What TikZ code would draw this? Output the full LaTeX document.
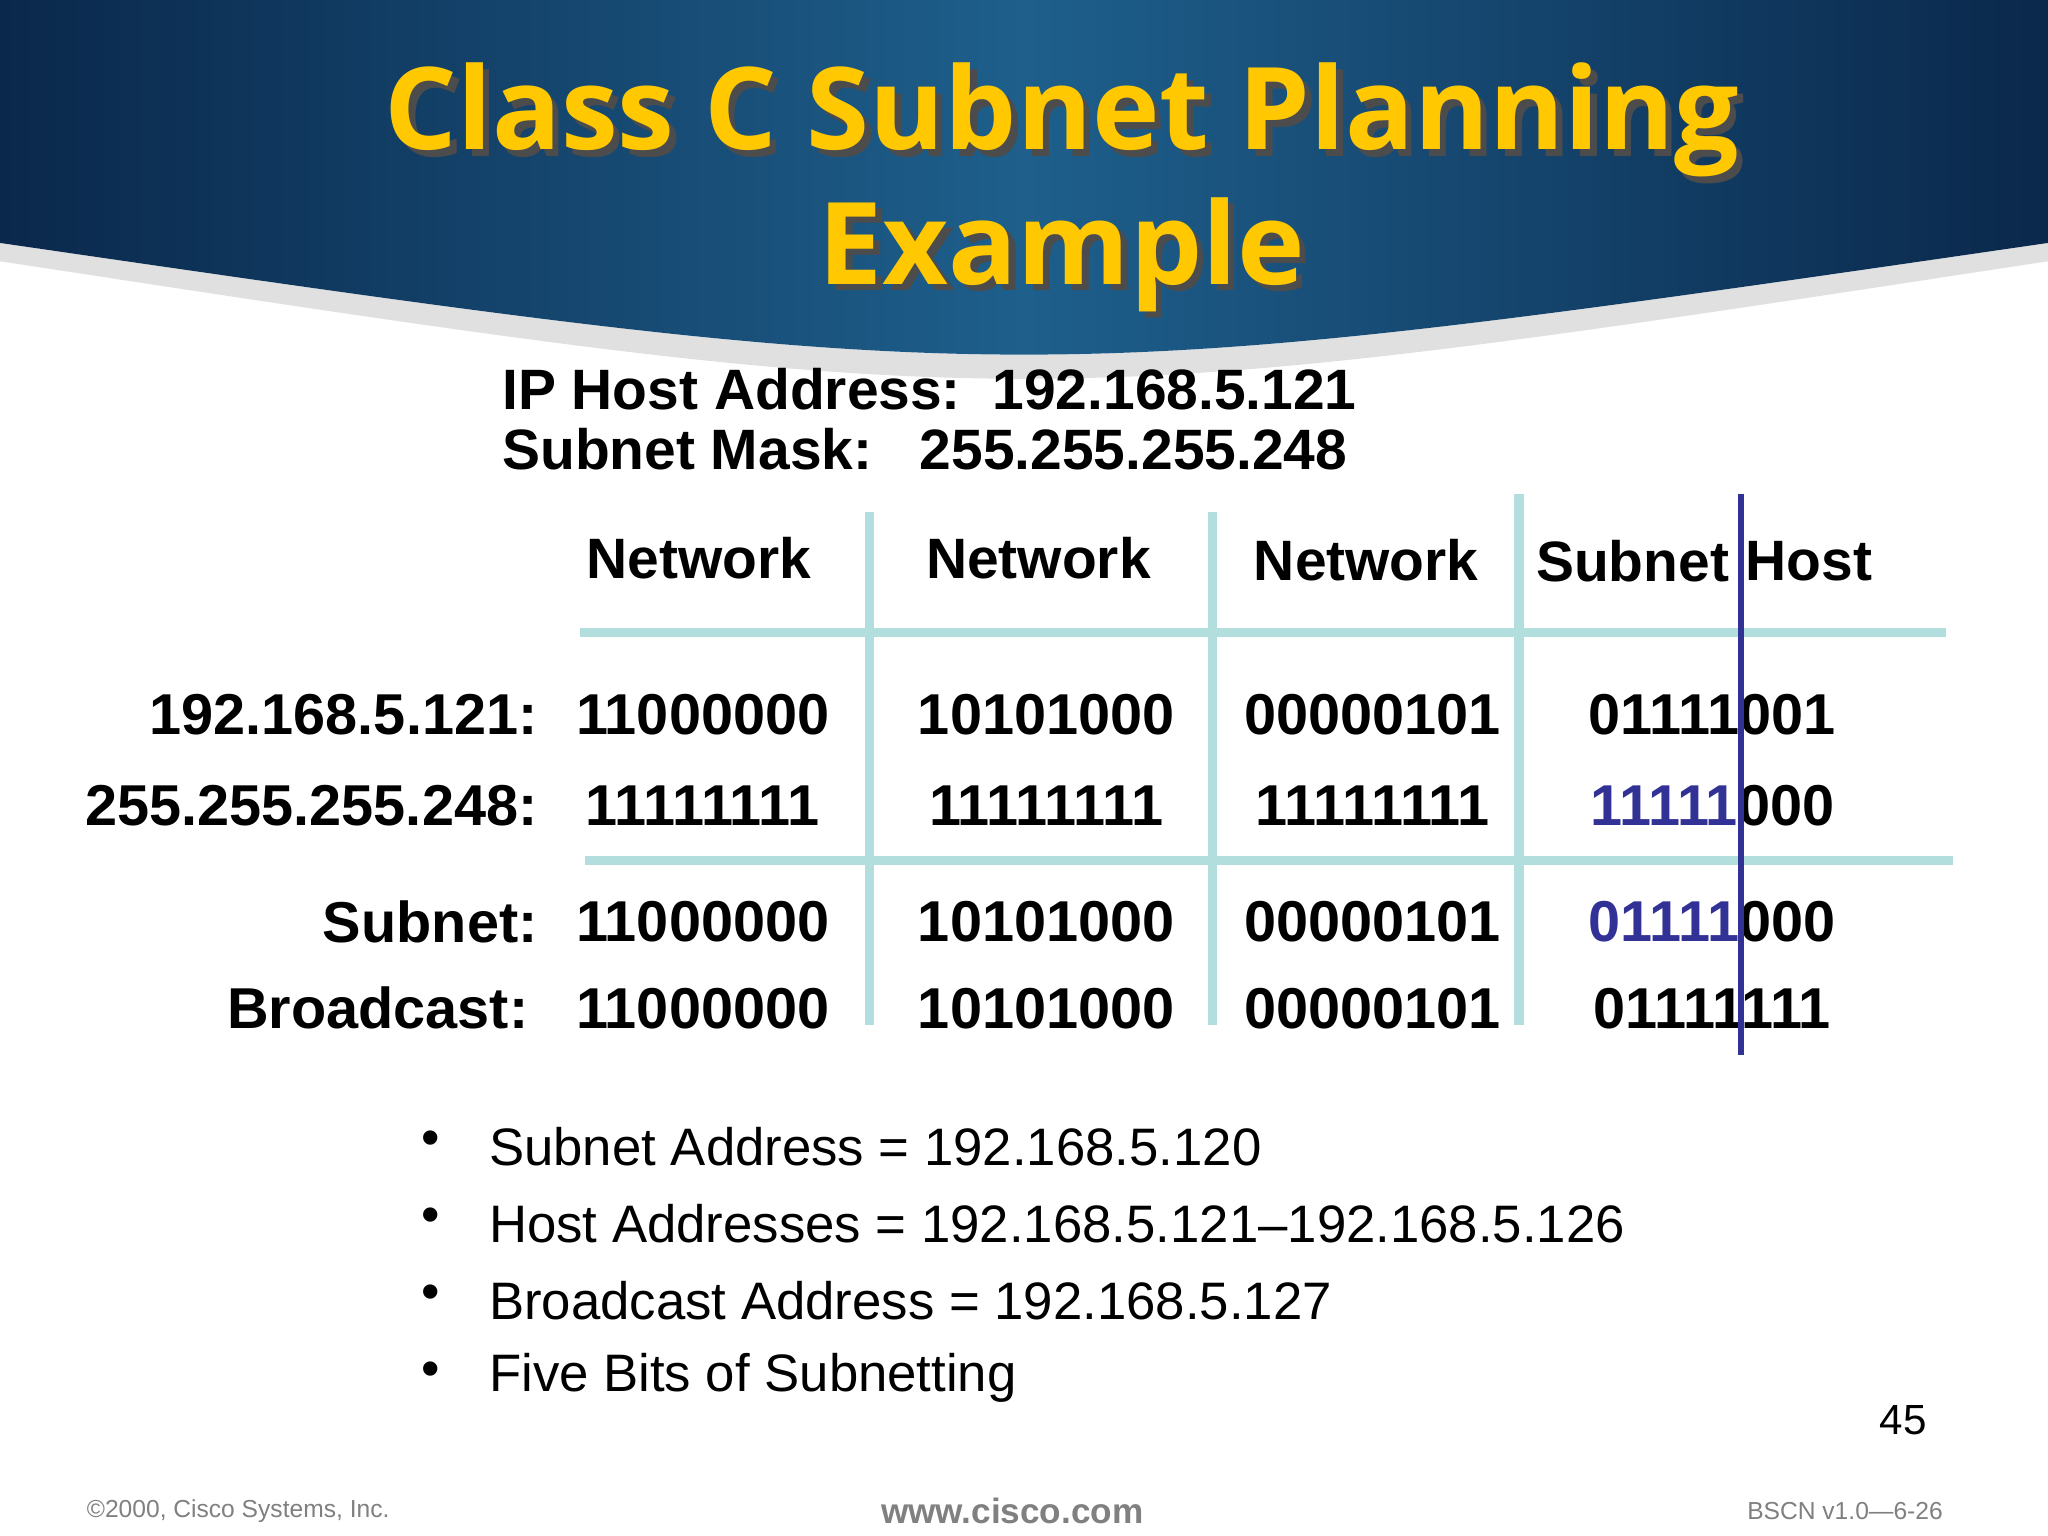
\documentclass[tikz,border=0pt]{standalone}
\usepackage{fontspec}
\setmainfont{Liberation Sans}
\newfontfamily\titlefont{Open Sans}
\definecolor{gridc}{RGB}{178,222,222}
\definecolor{maskblue}{RGB}{50,50,150}
\definecolor{titley}{RGB}{255,200,0}
\definecolor{hdark}{RGB}{10,40,75}
\definecolor{hlight}{RGB}{30,95,140}
\begin{document}
\begin{tikzpicture}[x=0.01306cm,y=-0.01306cm,
  grid/.style={gridc,line width=2.6pt},
  hdr/.style={font=\bfseries\fontsize{16.2}{18}\selectfont,inner sep=0pt},
  num/.style={font=\bfseries\fontsize{16.4}{18}\selectfont,inner sep=0pt},
  lab/.style={font=\bfseries\fontsize{16.4}{18}\selectfont,inner sep=0pt,anchor=east},
  bul/.style={font=\fontsize{15}{17}\selectfont,inner sep=0pt,anchor=west},
  ttl/.style={font=\titlefont\bfseries\fontsize{32.5}{36}\selectfont,inner sep=0pt},
  foot/.style={font=\fontsize{7}{8}\selectfont,gray,inner sep=0pt}]
\useasboundingbox (0,0) rectangle (1568,1176);
\fill[white] (0,0) rectangle (1568,1176);
% header
\fill[black!12] (0,186) .. controls (784,300) .. (1568,186) -- (1568,200) .. controls (784,320) .. (0,200) -- cycle;
\shade[left color=hdark,right color=hdark,middle color=hlight] (0,0) -- (1568,0) -- (1568,186) .. controls (784,300) .. (0,186) -- cycle;
% title
\foreach \t/\yy in {{Class C Subnet Planning}/92,{Example}/195}{
  \node[ttl,text=black!70] at (818,\yy+5) {\t};
  \node[ttl,text=titley] (t\yy) at (813,\yy) {\t};
}
% header info
\node[hdr,anchor=west] (ip) at (384,298) {IP Host Address:\ \ 192.168.5.121};
\node[hdr,anchor=west] (sm) at (384,344) {Subnet Mask:\ \ \ 255.255.255.248};
% grid
\coordinate (v1t) at (666,392); \coordinate (v1b) at (666,785);
\coordinate (v2t) at (928,392); \coordinate (v2b) at (928,785);
\coordinate (v3t) at (1163,378); \coordinate (v3b) at (1163,785);
\coordinate (h1l) at (444,484); \coordinate (h1r) at (1490,484);
\coordinate (h2l) at (448,659); \coordinate (h2r) at (1495,659);
\draw[grid] (v1t) -- (v1b); \draw[grid] (v2t) -- (v2b); \draw[grid] (v3t) -- (v3b);
\draw[grid] (h1l) -- (h1r); \draw[grid] (h2l) -- (h2r);
% column headers
\node[hdr] (n1) at (535,427) {Network};
\node[hdr] (n2) at (795,427) {Network};
\node[hdr] (n3) at (1046,429) {Network};
\node[hdr] (sn) at (1250,430) {Subnet};
\node[hdr] (hs) at (1385,430) {Host};
% rows
\node[lab] (l1) at (412,547) {192.168.5.121:};
\node[lab] (l2) at (412,617) {255.255.255.248:};
\node[lab] (l3) at (412,706) {Subnet:};
\node[lab] (l4) at (405,772) {Broadcast:};
\foreach \yy/\a/\b/\c/\d in {
  547/11000000/10101000/00000101/{01111001},
  617/11111111/11111111/11111111/{\textcolor{maskblue}{11111}000},
  706/11000000/10101000/00000101/{\textcolor{maskblue}{01111}000},
  772/11000000/10101000/00000101/{01111111}}{
  \node[num] at (538,\yy) {\a};
  \node[num] at (801,\yy) {\b};
  \node[num] at (1051,\yy) {\c};
  \node[num] at (1311,\yy) {\d};
}
% purple divider
\coordinate (pt) at (1333,378); \coordinate (pb) at (1333,808);
\draw[maskblue,line width=1.5pt] (pt) -- (pb);
% bullets
\foreach \yy/\t in {878/{Subnet Address = 192.168.5.120},937/{Host Addresses = 192.168.5.121--192.168.5.126},996/{Broadcast Address = 192.168.5.127},1055/{Five Bits of Subnetting}}{
  \node[bul] at (322,\yy-3) {\textbullet};
  \node[bul] at (374,\yy) {\t};
}
\node[font=\fontsize{12}{14}\selectfont,inner sep=0pt] (pg) at (1457,1087) {45};
\node[foot,anchor=west] (c1) at (66,1157) {\copyright2000, Cisco Systems, Inc.};
\node[foot,font=\bfseries\fontsize{10}{12}\selectfont] (c2) at (775,1157) {www.cisco.com};
\node[foot,anchor=east] (c3) at (1488,1157) {BSCN v1.0---6-26};
\end{tikzpicture}
\end{document}
